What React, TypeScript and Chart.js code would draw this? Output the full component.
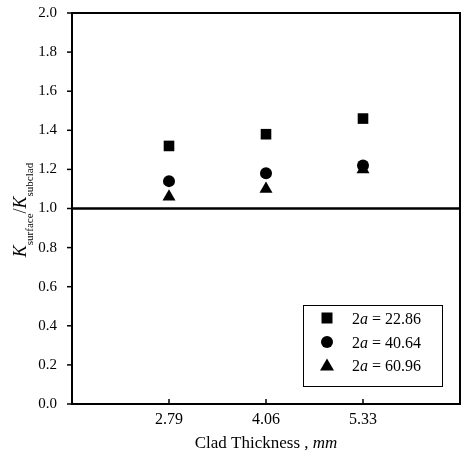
import React, { useEffect, useRef } from "react";
import { Chart, registerables } from "chart.js";

Chart.register(...registerables);

const thickness = [2.79, 4.06, 5.33];
const xTickLabels = ["2.79", "4.06", "5.33"];
const yTicks = [0, 0.2, 0.4, 0.6, 0.8, 1.0, 1.2, 1.4, 1.6, 1.8, 2.0];
const a2286 = [1.32, 1.38, 1.46];
const a4064 = [1.14, 1.18, 1.22];
const a6096 = [1.06, 1.1, 1.2];
const seriesLabels = ["22.86", "40.64", "60.96"];
const refLine = [1.0, 1.0];
const xRange = [1.52, 6.6];

const FONT = "'Liberation Serif', 'DejaVu Serif', serif";

const framePlugin = {
  id: "frame",
  afterDraw(chart: any) {
    const { ctx, chartArea } = chart;
    const { left, right, top, bottom } = chartArea;
    const xs = chart.scales.x;
    const ys = chart.scales.y;
    ctx.save();
    ctx.strokeStyle = "#000";
    ctx.lineWidth = 2;
    ctx.strokeRect(left, top, right - left, bottom - top);
    ctx.lineWidth = 1.5;
    yTicks.forEach((v) => {
      const y = ys.getPixelForValue(v);
      ctx.beginPath();
      ctx.moveTo(left - 5, y);
      ctx.lineTo(left, y);
      ctx.stroke();
    });
    thickness.forEach((v) => {
      const x = xs.getPixelForValue(v);
      ctx.beginPath();
      ctx.moveTo(x, bottom);
      ctx.lineTo(x, bottom - 5);
      ctx.stroke();
    });

    // y title
    ctx.fillStyle = "#000";
    ctx.textBaseline = "alphabetic";
    const big = `italic 18px ${FONT}`;
    const bigR = `18px ${FONT}`;
    const small = `11px ${FONT}`;
    const parts: [string, string, number][] = [
      ["K", big, 0],
      ["surface", small, 7],
      ["/", bigR, 0],
      ["K", big, 0],
      ["subclad", small, 7],
    ];
    let total = 0;
    parts.forEach(([t, f]) => {
      ctx.font = f;
      total += ctx.measureText(t).width;
    });
    ctx.save();
    ctx.translate(26, 210);
    ctx.rotate(-Math.PI / 2);
    let px = -total / 2;
    parts.forEach(([t, f, dy]) => {
      ctx.font = f;
      ctx.fillText(t, px, dy);
      px += ctx.measureText(t).width;
    });
    ctx.restore();

    // x title
    const xt: [string, string][] = [
      ["Clad Thickness , ", `17px ${FONT}`],
      ["mm", `italic 17px ${FONT}`],
    ];
    let tw = 0;
    xt.forEach(([t, f]) => {
      ctx.font = f;
      tw += ctx.measureText(t).width;
    });
    let tx = 266 - tw / 2;
    xt.forEach(([t, f]) => {
      ctx.font = f;
      ctx.fillText(t, tx, 448);
      tx += ctx.measureText(t).width;
    });

    // legend
    const bx = 303, by = 305, bw = 139, bh = 81;
    ctx.lineWidth = 1;
    ctx.strokeRect(bx + 0.5, by + 0.5, bw, bh);
    const styles = ["rect", "circle", "triangle"];
    const rowsY = [318, 342, 365];
    styles.forEach((s, i) => {
      const cx = 327, cy = rowsY[i];
      ctx.beginPath();
      if (s === "rect") {
        ctx.rect(cx - 5.5, cy - 5.5, 11, 11);
      } else if (s === "circle") {
        ctx.arc(cx, cy, 6, 0, Math.PI * 2);
      } else {
        ctx.moveTo(cx, cy - 6.5);
        ctx.lineTo(cx + 7, cy + 5.5);
        ctx.lineTo(cx - 7, cy + 5.5);
        ctx.closePath();
      }
      ctx.fill();
      let lx = 352;
      const segs: [string, string][] = [
        ["2", `16px ${FONT}`],
        ["a", `italic 16px ${FONT}`],
        [" = " + seriesLabels[i], `16px ${FONT}`],
      ];
      segs.forEach(([t, f]) => {
        ctx.font = f;
        ctx.fillText(t, lx, cy + 5.5);
        lx += ctx.measureText(t).width;
      });
    });
    ctx.restore();
  },
};

export default function App() {
  const ref = useRef<HTMLCanvasElement>(null);
  useEffect(() => {
    if (!ref.current) return;
    const mk = (arr: number[]) => thickness.map((x, i) => ({ x, y: arr[i] }));
    const chart = new Chart(ref.current, {
      type: "scatter",
      data: {
        datasets: [
          {
            label: "ref",
            type: "line",
            data: xRange.map((x, i) => ({ x, y: refLine[i] })),
            borderColor: "#000",
            borderWidth: 2.5,
            pointRadius: 0,
            showLine: true,
          } as any,
          {
            label: "2a = 22.86",
            data: mk(a2286),
            pointStyle: "rect",
            pointRadius: 7.5,
            backgroundColor: "#000",
            borderColor: "#000",
            borderWidth: 0,
          },
          {
            label: "2a = 40.64",
            data: mk(a4064),
            pointStyle: "circle",
            pointRadius: 6,
            backgroundColor: "#000",
            borderColor: "#000",
            borderWidth: 0,
          },
          {
            label: "2a = 60.96",
            data: mk(a6096),
            pointStyle: "triangle",
            pointRadius: 7.5,
            backgroundColor: "#000",
            borderColor: "#000",
            borderWidth: 0,
          },
        ],
      },
      options: {
        animation: false,
        responsive: false,
        maintainAspectRatio: false,
        layout: { padding: { top: 13, right: 6, left: 0, bottom: 0 }, autoPadding: false },
        plugins: { legend: { display: false }, tooltip: { enabled: false } },
        scales: {
          x: {
            type: "linear",
            min: xRange[0],
            max: xRange[1],
            grid: { display: false, drawTicks: false },
            border: { display: false },
            afterBuildTicks: (s: any) => {
              s.ticks = thickness.map((v) => ({ value: v }));
            },
            afterFit: (s: any) => {
              s.height = 53;
              s.paddingLeft = 0;
              s.paddingRight = 0;
            },
            ticks: {
              color: "#000",
              font: { family: FONT, size: 16 },
              padding: 6,
              maxRotation: 0,
              callback: (v: any) => {
                const i = thickness.indexOf(Number(v));
                return i >= 0 ? xTickLabels[i] : "";
              },
            },
          },
          y: {
            min: 0,
            max: 2,
            grid: { display: false, drawTicks: false },
            border: { display: false },
            afterBuildTicks: (s: any) => {
              s.ticks = yTicks.map((v) => ({ value: v }));
            },
            afterFit: (s: any) => {
              s.width = 72;
              s.paddingTop = 0;
              s.paddingBottom = 0;
            },
            ticks: {
              color: "#000",
              font: { family: FONT, size: 15 },
              padding: 15,
              callback: (v: any) => Number(v).toFixed(1),
            },
          },
        },
      },
      plugins: [framePlugin],
    });
    return () => chart.destroy();
  }, []);
  return (
    <div style={{ position: "fixed", left: 0, top: 0, width: 466, height: 457, background: "#fff" }}>
      <canvas ref={ref} width={466} height={457} style={{ width: 466, height: 457 }} />
    </div>
  );
}
